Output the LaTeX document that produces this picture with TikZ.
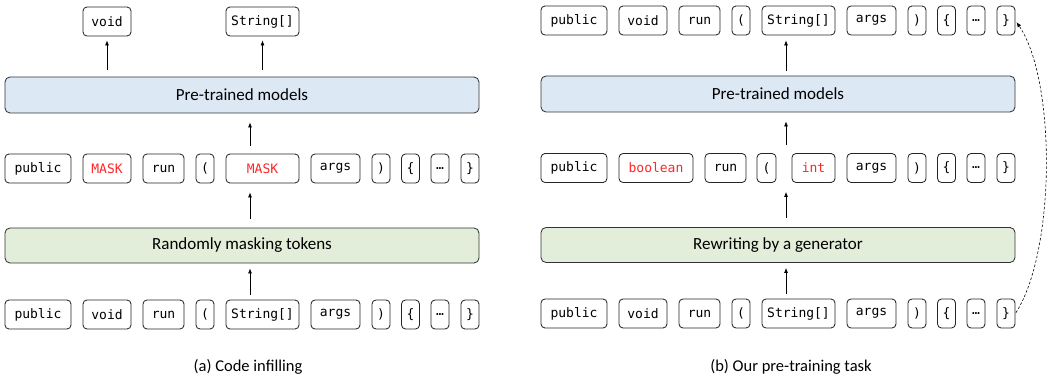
\documentclass[tikz,border=0pt]{standalone}
\usepackage{fontspec}
\setmainfont{Carlito}
\newfontfamily\codefont{DejaVu Sans Mono}
\usepackage{tikz}
\usetikzlibrary{arrows.meta}

\definecolor{modelblue}{HTML}{DDE8F5}
\definecolor{rewritegreen}{HTML}{E2EED9}
\definecolor{maskred}{HTML}{FF2626}

\tikzset{
  tok/.style={draw=black!85, rounded corners=4pt, line width=0.85pt, minimum height=29pt, inner sep=0pt, font=\codefont\fontsize{13}{15}\selectfont},
  masktok/.style={tok, text=maskred},
  stage/.style={draw=black!80, rounded corners=5pt, line width=0.85pt, minimum width=474pt, inner sep=0pt, font=\fontsize{17}{20}\selectfont},
  caption/.style={font=\fontsize{16.5}{19}\selectfont},
  up/.style={-{Latex[length=5pt,width=4pt]}, line width=0.7pt}
}

\begin{document}
\begin{tikzpicture}[x=1pt,y=-1pt]
\useasboundingbox (0,0) rectangle (1048,379);
\coordinate (L) at (250,0);
\coordinate (R) at (786,0);

% (a) code infilling
	\node[stage, fill=modelblue, minimum height=36pt] (P1) at (242,95) {Pre-trained models};
	\node[stage, fill=rewritegreen, minimum height=35pt] (G1) at (242,245.5) {Randomly masking tokens};

	\node[tok, minimum width=48pt] (C1) at (107,21.5) {void};
	\node[tok, minimum width=73pt] (C2) at (262.5,21.5) {String[]};

	\node[tok, minimum width=66pt] (B1) at (38,168.5) {public};
	\node[masktok, minimum width=48pt] (B2) at (107,168.5) {MASK};
	\node[tok, minimum width=41pt] (B3) at (163.5,168.5) {run};
	\node[tok, minimum width=18pt] (B4) at (205,168.5) {(};
	\node[masktok, minimum width=73pt] (B5) at (262.5,168.5) {MASK};
	\node[tok, minimum width=49pt] (B6) at (335.5,168.5) {args};
	\node[tok, minimum width=18pt] (B7) at (381,168.5) {)};
	\node[tok, minimum width=18pt] (B8) at (410.5,168.5) {\{};
	\node[tok, minimum width=18pt] (B9) at (440,168.5) {…};
	\node[tok, minimum width=18pt] (B10) at (470,168.5) {\}};

	\node[tok, minimum width=66pt] (A1) at (38,314.5) {public};
	\node[tok, minimum width=48pt] (A2) at (107,314.5) {void};
	\node[tok, minimum width=41pt] (A3) at (163.5,314.5) {run};
	\node[tok, minimum width=18pt] (A4) at (205,314.5) {(};
	\node[tok, minimum width=73pt] (A5) at (262.5,314.5) {String[]};
	\node[tok, minimum width=49pt] (A6) at (335.5,314.5) {args};
	\node[tok, minimum width=18pt] (A7) at (381,314.5) {)};
	\node[tok, minimum width=18pt] (A8) at (410.5,314.5) {\{};
	\node[tok, minimum width=18pt] (A9) at (440,314.5) {…};
	\node[tok, minimum width=18pt] (A10) at (470,314.5) {\}};

	\node[caption] (capA) at (248,367) {(a) Code infilling};

	\draw[up, shorten <=5pt, shorten >=5pt] (A5.north -| L) -- (G1.south -| L);
	\draw[up, shorten <=9pt, shorten >=9pt] (G1.north -| L) -- (B5.south -| L);
	\draw[up, shorten <=8pt, shorten >=9pt] (B5.north -| L) -- (P1.south -| L);
	\draw[up, shorten <=7pt, shorten >=4pt] (P1.north -| C1) -- (C1.south);
	\draw[up, shorten <=7pt, shorten >=4pt] (P1.north -| C2) -- (C2.south);

% (b) our pre-training task
	\node[stage, fill=modelblue, minimum height=36pt] (P2) at (778,94) {Pre-trained models};
	\node[stage, fill=rewritegreen, minimum height=35pt] (G2) at (778,245) {Rewriting by a generator};

	\node[tok, minimum width=66pt] (F1) at (574,20.5) {public};
	\node[tok, minimum width=48pt] (F2) at (643,20.5) {void};
	\node[tok, minimum width=41pt] (F3) at (699.5,20.5) {run};
	\node[tok, minimum width=18pt] (F4) at (741,20.5) {(};
	\node[tok, minimum width=73pt] (F5) at (798.5,20.5) {String[]};
	\node[tok, minimum width=49pt] (F6) at (871.5,20.5) {args};
	\node[tok, minimum width=18pt] (F7) at (917,20.5) {)};
	\node[tok, minimum width=18pt] (F8) at (946.5,20.5) {\{};
	\node[tok, minimum width=18pt] (F9) at (976,20.5) {…};
	\node[tok, minimum width=18pt] (F10) at (1006,20.5) {\}};

	\node[tok, minimum width=66pt] (E1) at (574,168) {public};
	\node[masktok, minimum width=74pt] (E2) at (656,168) {boolean};
	\node[tok, minimum width=41pt] (E3) at (725.5,168) {run};
	\node[tok, minimum width=19pt] (E4) at (766.5,168) {(};
	\node[masktok, minimum width=43pt] (E5) at (813.5,168) {int};
	\node[tok, minimum width=49pt] (E6) at (871.5,168) {args};
	\node[tok, minimum width=18pt] (E7) at (917,168) {)};
	\node[tok, minimum width=18pt] (E8) at (946.5,168) {\{};
	\node[tok, minimum width=18pt] (E9) at (976,168) {…};
	\node[tok, minimum width=18pt] (E10) at (1006,168) {\}};

	\node[tok, minimum width=66pt] (D1) at (574,313.5) {public};
	\node[tok, minimum width=48pt] (D2) at (643,313.5) {void};
	\node[tok, minimum width=41pt] (D3) at (699.5,313.5) {run};
	\node[tok, minimum width=18pt] (D4) at (741,313.5) {(};
	\node[tok, minimum width=73pt] (D5) at (798.5,313.5) {String[]};
	\node[tok, minimum width=49pt] (D6) at (871.5,313.5) {args};
	\node[tok, minimum width=18pt] (D7) at (917,313.5) {)};
	\node[tok, minimum width=18pt] (D8) at (946.5,313.5) {\{};
	\node[tok, minimum width=18pt] (D9) at (976,313.5) {…};
	\node[tok, minimum width=18pt] (D10) at (1006,313.5) {\}};

	\node[caption] (capB) at (791,367) {(b) Our pre-training task};

	\draw[up, shorten <=5pt, shorten >=5pt] (D5.north -| R) -- (G2.south -| R);
	\draw[up, shorten <=9pt, shorten >=9pt] (G2.north -| R) -- (E5.south -| R);
	\draw[up, shorten <=8pt, shorten >=9pt] (E5.north -| R) -- (P2.south -| R);
	\draw[up, shorten <=5pt, shorten >=5pt] (P2.north -| R) -- (F5.south -| R);

	\draw[up, dash pattern=on 2.5pt off 2pt, line width=0.6pt, shorten <=1pt, shorten >=2pt] (D10.east) .. controls (1056,250) and (1056,80) .. (F10.east);
\end{tikzpicture}
\end{document}
